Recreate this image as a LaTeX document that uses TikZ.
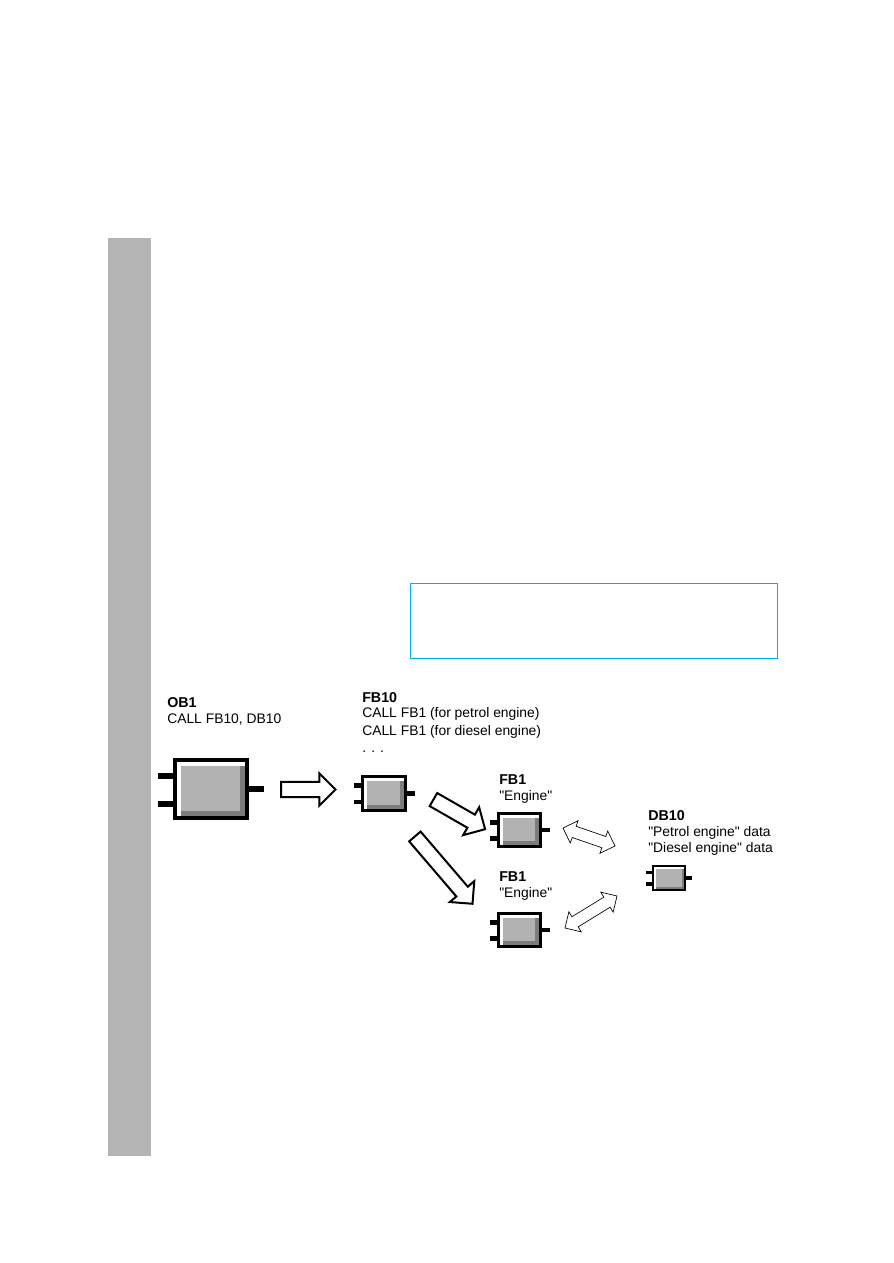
\documentclass[tikz,border=0pt]{standalone}
\usepackage{fontspec}
\setmainfont{Liberation Sans}
\usetikzlibrary{shapes.arrows,calc}
\definecolor{bargray}{HTML}{B4B4B4}
\definecolor{fillgray}{HTML}{B2B2B2}
\definecolor{shadegray}{HTML}{7C7C7C}

\begin{document}
\begin{tikzpicture}[x=0.75pt,y=-0.75pt,
  hd/.style={anchor=base west,inner sep=0pt,font=\fontsize{10.7}{13}\selectfont\bfseries},
  txt/.style={anchor=base west,inner sep=0pt,font=\fontsize{10.4}{13}\selectfont},
  blk/.style={draw=black,line width=#1,fill=white,inner sep=0pt,outer sep=0pt,
    path picture={
      \fill[shadegray] ([shift={(1.4*#1,-1.4*#1)}]path picture bounding box.north west) rectangle (path picture bounding box.south east);
      \fill[fillgray] ([shift={(1.4*#1,-1.4*#1)}]path picture bounding box.north west) rectangle ([shift={(-1.7*#1,1.7*#1)}]path picture bounding box.south east);}},
  lead/.style={line width=#1,draw=black},
  fat/.style={single arrow,draw=black,line width=1.5pt,fill=white,inner sep=0pt,inner ysep=4.9pt,
    single arrow head extend=6.4pt,single arrow head indent=0pt,minimum width=0pt},
  swapd/.style={double arrow,draw=black,line width=0.5pt,fill=white,inner sep=0pt,inner ysep=4.2pt,
    double arrow head extend=4.4pt,minimum width=0pt}
]
\useasboundingbox (0,0) rectangle (893,1263);
\fill[white] (0,0) rectangle (893,1263);
% side bar and empty frame
\fill[bargray] (108,238) rectangle (151,1156);
\draw[cyan,line width=1.2pt] (410.5,583.5) rectangle (777.5,658.5);

% labels
\node[hd]  (ob1-h)  at (167,707) {OB1};
\node[txt] (ob1-c)  at (167,723) {CALL FB10, DB10};
\node[hd]  (fb10-h) at (362,702) {FB10};
\node[txt] (fb10-a) at (362,717) {CALL FB1 (for petrol engine)};
\node[txt] (fb10-b) at (362,735) {CALL FB1 (for diesel engine)};
\node[txt] (fb10-c) at (362,752) {. . .};
\node[hd]  (fba-h)  at (499,784) {FB1};
\node[txt] (fba-c)  at (499,800) {\textquotedbl Engine\textquotedbl};
\node[hd]  (fbb-h)  at (499,881) {FB1};
\node[txt] (fbb-c)  at (499,897) {\textquotedbl Engine\textquotedbl};
\node[hd]  (db10-h) at (648,820) {DB10};
\node[txt] (db10-a) at (648,836) {\textquotedbl Petrol engine\textquotedbl{} data};
\node[txt] (db10-b) at (648,852) {\textquotedbl Diesel engine\textquotedbl{} data};

% blocks
\node[blk=3pt,minimum width=54pt,minimum height=43.5pt]       (ob1)  at (211,789) {};
\node[blk=2.25pt,minimum width=32.25pt,minimum height=25.5pt] (fb10) at (384,793.5) {};
\node[blk=2.25pt,minimum width=31.5pt,minimum height=24.75pt] (fba)  at (519.5,830) {};
\node[blk=2.25pt,minimum width=31.5pt,minimum height=24.75pt] (fbb)  at (519.5,930) {};
\node[blk=1.5pt,minimum width=24pt,minimum height=18pt]       (db10) at (669,878) {};

\foreach \b/\l/\w in {ob1/17/4.5pt,fb10/9/3.4pt,fba/9/3.4pt,fbb/9/3.4pt,db10/7/2.6pt}{
  \draw[lead=\w] ($(\b.north west)!0.27!(\b.south west)$) -- ++(-\l,0);
  \draw[lead=\w] ($(\b.north west)!0.75!(\b.south west)$) -- ++(-\l,0);
  \draw[lead=\w] (\b.east) -- ++(\l,0);
}

% block arrows
\coordinate (r0) at (276,789.5);  \coordinate (r1) at (333,789.5);
\coordinate (d0) at (429,797);    \coordinate (d1) at (483,828);
\coordinate (e0) at (411.5,832.5);\coordinate (e1) at (471,902);
\coordinate (s0) at (563,828);    \coordinate (s1) at (615,846);
\coordinate (u0) at (565,928);    \coordinate (u1) at (617,896);

\path let \p1=($(r1)-(r0)$),\n1={atan2(\y1,\x1)},\n2={veclen(\x1,\y1)} in
  node[fat,rotate=\n1,minimum height=\n2-2] (go)  at ($(r0)!0.5!(r1)$) {};
\path let \p1=($(d1)-(d0)$),\n1={atan2(\y1,\x1)},\n2={veclen(\x1,\y1)} in
  node[fat,rotate=\n1,minimum height=\n2-2] (goa) at ($(d0)!0.5!(d1)$) {};
\path let \p1=($(e1)-(e0)$),\n1={atan2(\y1,\x1)},\n2={veclen(\x1,\y1)} in
  node[fat,rotate=\n1,minimum height=\n2-2] (gob) at ($(e0)!0.5!(e1)$) {};
\path let \p1=($(s1)-(s0)$),\n1={atan2(\y1,\x1)},\n2={veclen(\x1,\y1)} in
  node[swapd,rotate=\n1,minimum height=\n2] (xa) at ($(s0)!0.5!(s1)$) {};
\path let \p1=($(u1)-(u0)$),\n1={atan2(\y1,\x1)},\n2={veclen(\x1,\y1)} in
  node[swapd,rotate=\n1,minimum height=\n2] (xb) at ($(u0)!0.5!(u1)$) {};
\end{tikzpicture}
\end{document}
